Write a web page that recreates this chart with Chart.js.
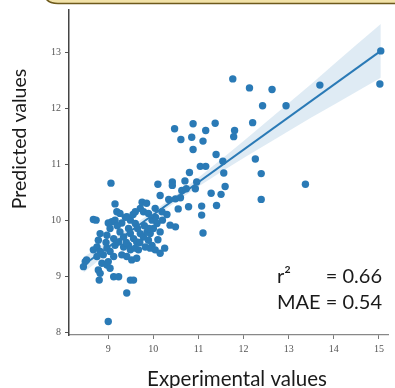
<!DOCTYPE html>
<html>
<head>
<meta charset="utf-8">
<script src="https://cdn.jsdelivr.net/npm/chart.js@4"></script>
<style>
  html, body { margin: 0; padding: 0; background: #fff; }
  #wrap { position: relative; width: 395px; height: 388px; }
</style>
</head>
<body>
<div id="wrap"><canvas id="chart" width="395" height="388"></canvas></div>
<script>
// scatter points (experimental, predicted)
var expX = [11.76, 10.47, 10.88, 11.16, 11.37, 10.61, 10.85, 11.10, 10.88, 11.39, 11.54, 11.04, 11.16, 10.80, 11.56,
  9.06, 10.10, 10.42, 10.42, 10.96, 11.59, 12.13, 12.63, 13.69, 15.04, 15.02, 12.42, 12.94, 12.20, 11.80,
  11.78, 12.26, 12.39, 13.37, 11.28, 11.50, 12.39, 11.07, 11.40, 11.07, 11.10,
  10.93, 9.75, 10.15, 10.34, 10.49, 10.63, 10.73, 10.78, 9.15, 9.19, 9.26, 8.67, 8.73, 9.08, 9.15,
  9.41, 9.49, 9.60, 9.71, 9.78, 9.89, 9.97, 10.08, 10.00, 10.15, 10.04, 10.19, 10.37, 10.49, 9.71,
  9.78, 9.89, 9.97, 9.49, 9.56, 9.63, 9.26, 9.34, 9.23, 9.12, 9.04, 8.97, 8.82, 8.78, 8.75,
  8.67, 8.82, 8.97, 8.89, 9.04, 9.12, 9.30, 9.41, 9.52, 9.63, 9.67, 9.82, 9.93, 10.04, 10.15,
  8.49, 8.45, 8.52, 8.75, 8.78, 8.82, 8.86, 8.97, 9.04, 9.00, 9.12, 9.23, 9.49, 9.56, 9.41,
  9.00, 8.80, 9.34, 9.45, 9.49, 9.60, 9.86, 9.93,
  9.30, 9.38, 9.55, 9.65, 9.80, 9.90, 10.05, 9.45, 9.20, 9.60, 9.85, 10.20, 10.30, 9.70, 9.40,
  10.10, 10.25, 9.15, 8.95, 10.60, 10.70, 9.00, 10.55];
var predY = [12.52, 11.63, 11.72, 11.60, 11.73, 11.44, 11.48, 11.41, 11.26, 11.17, 11.05, 10.96, 10.96, 10.85, 10.84,
  10.66, 10.64, 10.68, 10.62, 10.68, 10.60, 12.36, 12.33, 12.41, 13.02, 12.43, 12.04, 12.04, 11.74, 11.60,
  11.49, 11.09, 10.83, 10.64, 10.48, 10.46, 10.37, 10.25, 10.26, 10.09, 9.77,
  10.56, 10.32, 10.44, 10.37, 10.38, 10.53, 10.56, 10.24, 10.29, 10.15, 10.12, 10.01, 10.00, 9.97, 10.00,
  10.06, 10.00, 9.94, 10.21, 10.15, 10.12, 10.00, 9.94, 9.85, 9.79, 10.21, 10.15, 9.91, 9.88, 9.76,
  9.70, 9.64, 9.55, 9.76, 9.67, 9.61, 9.79, 9.70, 9.61, 9.67, 9.85, 9.73, 9.76, 9.64, 9.52,
  9.47, 9.44, 9.50, 9.38, 9.44, 9.35, 9.38, 9.35, 9.29, 9.32, 9.47, 9.52, 9.50, 9.47, 9.41,
  9.26, 9.17, 9.29, 9.35, 9.11, 9.05, 9.23, 9.20, 9.14, 9.26, 8.99, 8.99, 8.93, 8.93, 8.70,
  8.19, 8.93, 9.52, 9.55, 9.47, 9.50, 9.79, 9.76,
  9.95, 10.05, 10.10, 9.85, 9.90, 9.85, 10.05, 9.85, 9.90, 10.15, 10.30, 10.00, 10.10, 9.60, 9.60,
  9.65, 9.50, 9.55, 9.60, 10.40, 10.70, 9.95, 10.20];

// fitted line and its confidence band
var lineX = [8.45, 15.04];
var lineY = [9.20, 13.02];
var bandX = [8.45, 9, 9.5, 10, 10.5, 11, 11.5, 12, 12.5, 13, 13.5, 14, 14.5, 15.04];
var bandUpper = [9.34, 9.62, 9.88, 10.16, 10.45, 10.76, 11.08, 11.41, 11.75, 12.09, 12.43, 12.78, 13.13, 13.50];
var bandLower = [9.06, 9.42, 9.74, 10.04, 10.33, 10.60, 10.86, 11.11, 11.35, 11.59, 11.83, 12.06, 12.29, 12.54];

var xTicks = [9, 10, 11, 12, 13, 14, 15];
var yTicks = [8, 9, 10, 11, 12, 13];

var xTitle = 'Experimental values';
var yTitle = 'Predicted values';
var statLines = [['r\u00b2', '= 0.66'], ['MAE = 0.54', '']];

function pairs(xs, ys) {
    return xs.map(function (x, i) { return { x: x, y: ys[i] }; });
}

var blue = '#2a7ab6';

// the cream box edge at the very top and the texts around the plot
var extrasPlugin = {
    id: 'extras',
    beforeDraw: function (chart) {
        var ctx = chart.ctx;
        ctx.save();
        ctx.fillStyle = '#fff';
        ctx.fillRect(0, 0, chart.width, chart.height);
        ctx.beginPath();
        ctx.moveTo(44, -6);
        ctx.quadraticCurveTo(46, 3.5, 58, 3.5);
        ctx.lineTo(400, 3.5);
        ctx.lineTo(400, -6);
        ctx.closePath();
        ctx.fillStyle = '#f2e2a8';
        ctx.fill();
        ctx.beginPath();
        ctx.moveTo(44, -6);
        ctx.quadraticCurveTo(46, 3.5, 58, 3.5);
        ctx.lineTo(400, 3.5);
        ctx.strokeStyle = '#6e5a1c';
        ctx.lineWidth = 1.6;
        ctx.stroke();
        ctx.restore();
    },
    afterDraw: function (chart) {
        var ctx = chart.ctx;
        ctx.save();
        ctx.fillStyle = '#1a1a1a';
        ctx.textBaseline = 'middle';
        ctx.textAlign = 'center';
        ctx.font = '20.5px Lato';
        ctx.fillText(xTitle, 237, 379);
        ctx.font = '19.5px Lato';
        ctx.translate(20, 139);
        ctx.rotate(-Math.PI / 2);
        ctx.fillText(yTitle, 0, 0);
        ctx.restore();

        ctx.save();
        ctx.fillStyle = '#1a1a1a';
        ctx.font = '20px Lato';
        ctx.textBaseline = 'alphabetic';
        statLines.forEach(function (row, i) {
            var y = 283 + i * 26;
            ctx.textAlign = 'left';
            ctx.fillText(row[0], 277, y);
            if (row[1]) {
                ctx.textAlign = 'right';
                ctx.fillText(row[1], 382, y);
            }
        });
        ctx.restore();
    }
};

var tickFont = { family: 'Liberation Serif', size: 10 };

new Chart(document.getElementById('chart'), {
    type: 'scatter',
    data: {
        datasets: [
            {
                label: 'fit',
                type: 'line',
                data: pairs(lineX, lineY),
                borderColor: blue,
                borderWidth: 2,
                pointRadius: 0,
                fill: false,
                order: 0
            },
            {
                label: 'ci upper',
                type: 'line',
                data: pairs(bandX, bandUpper),
                borderWidth: 0,
                borderColor: 'rgba(0,0,0,0)',
                backgroundColor: 'rgba(42,122,182,0.15)',
                pointRadius: 0,
                fill: '+1',
                order: 1
            },
            {
                label: 'ci lower',
                type: 'line',
                data: pairs(bandX, bandLower),
                borderWidth: 0,
                borderColor: 'rgba(0,0,0,0)',
                pointRadius: 0,
                fill: false,
                order: 1
            },
            {
                label: 'samples',
                data: pairs(expX, predY),
                backgroundColor: blue,
                borderWidth: 0,
                pointRadius: 3.7,
                order: 2
            }
        ]
    },
    options: {
        responsive: false,
        animation: false,
        layout: { padding: { top: 9, right: 7, left: 0, bottom: 0 } },
        plugins: {
            legend: { display: false },
            tooltip: { enabled: false }
        },
        scales: {
            x: {
                type: 'linear',
                min: 8.13,
                max: 15.2,
                afterFit: function (scale) { scale.height = 53; },
                afterBuildTicks: function (scale) {
                    scale.ticks = xTicks.map(function (v) { return { value: v }; });
                },
                ticks: { font: tickFont, color: '#555', padding: 4, maxRotation: 0 },
                grid: { drawOnChartArea: false, tickLength: 4, color: '#777' },
                border: { color: '#888', width: 1.2 }
            },
            y: {
                type: 'linear',
                min: 7.95,
                max: 13.75,
                afterFit: function (scale) { scale.width = 69; },
                afterBuildTicks: function (scale) {
                    scale.ticks = yTicks.map(function (v) { return { value: v }; });
                },
                ticks: { font: tickFont, color: '#555', padding: 4 },
                grid: { drawOnChartArea: false, tickLength: 4, color: '#555' },
                border: { color: '#444', width: 1.5 }
            }
        }
    },
    plugins: [extrasPlugin]
});
</script>
</body>
</html>
